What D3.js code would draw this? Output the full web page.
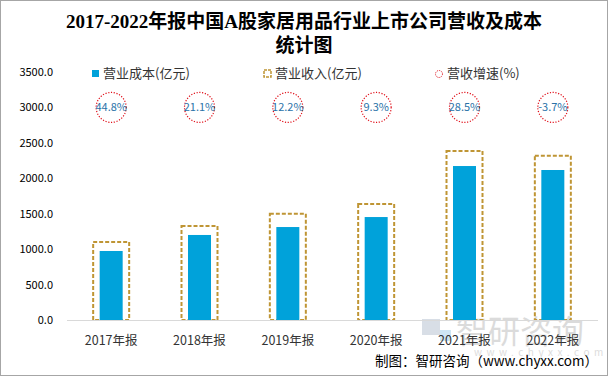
<!DOCTYPE html>
<html>
<head>
<meta charset="utf-8">
<script src="https://cdn.jsdelivr.net/npm/d3@7"></script>
<style>
  body { margin: 0; background: #fff; }
  text { font-family: "Microsoft YaHei", "Noto Sans CJK SC", sans-serif; }
</style>
</head>
<body>
<div id="chart"></div>
<script>
const years = ["2017年报", "2018年报", "2019年报", "2020年报", "2021年报", "2022年报"];
const cost = [974, 1200, 1312, 1453, 2173, 2117];
const revenue = [1100, 1327, 1500, 1637, 2385, 2319];
const growth = ["44.8%", "21.1%", "12.2%", "9.3%", "28.5%", "-3.7%"];
const yTicks = [0, 500, 1000, 1500, 2000, 2500, 3000, 3500];

const W = 610, H = 377;
const plot = { left: 67, right: 597, top: 72, bottom: 320 };

const svg = d3.select("#chart").append("svg")
    .attr("width", W).attr("height", H);

// 外框
svg.append("rect")
    .attr("x", 0.5).attr("y", 0.5)
    .attr("width", W - 3).attr("height", H - 2)
    .attr("fill", "#fff").attr("stroke", "#a6a6a6");

// 标题
const title = svg.append("text")
    .attr("text-anchor", "middle")
    .style("font-family", "'Liberation Serif', 'Noto Sans CJK SC', serif")
    .style("font-weight", "bold")
    .style("font-size", "19px")
    .attr("fill", "#000");
title.append("tspan").attr("x", 304).attr("y", 28).text("2017-2022年报中国A股家居用品行业上市公司营收及成本");
title.append("tspan").attr("x", 304).attr("y", 52).text("统计图");

const x = d3.scaleBand().domain(years).range([plot.left, plot.right]);
const y = d3.scaleLinear().domain([0, 3500]).range([plot.bottom, plot.top]);

// Y轴
svg.append("g")
    .selectAll("text")
    .data(yTicks)
    .join("text")
    .attr("x", 53)
    .attr("y", d => y(d) + 4)
    .attr("text-anchor", "end")
    .style("font-size", "11px")
    .attr("fill", "#000")
    .text(d => d.toFixed(1));

// 水印
const wm = svg.append("g").attr("opacity", 0.3);
wm.append("rect").attr("x", 422).attr("y", 319).attr("width", 18).attr("height", 16).attr("fill", "#7f93b0");
wm.append("rect").attr("x", 440).attr("y", 330).attr("width", 11).attr("height", 11).attr("fill", "#5fb0e0");
wm.append("text").attr("x", 456).attr("y", 343)
    .style("font-size", "32px").attr("fill", "#8c8c8c").text("智研咨询");
wm.append("text").attr("x", 474).attr("y", 356)
    .style("font-size", "10px").style("letter-spacing", "4.5px").attr("fill", "#8c8c8c").text("www.chyxx.com");

// 营业收入（虚线框）
const rw = 36;
svg.append("g")
    .selectAll("rect")
    .data(revenue)
    .join("rect")
    .attr("x", (d, i) => x(years[i]) + x.bandwidth() / 2 - rw / 2)
    .attr("y", d => y(d))
    .attr("width", rw)
    .attr("height", d => y(0) - y(d))
    .attr("fill", "none")
    .attr("stroke", "#bf9534")
    .attr("stroke-width", 2)
    .attr("stroke-dasharray", "4,2");

// 营业成本
const cw = 23;
svg.append("g")
    .selectAll("rect")
    .data(cost)
    .join("rect")
    .attr("x", (d, i) => x(years[i]) + x.bandwidth() / 2 - cw / 2)
    .attr("y", d => y(d))
    .attr("width", cw)
    .attr("height", d => y(0) - y(d))
    .attr("fill", "#00a2da");

// X轴
svg.append("line")
    .attr("x1", plot.left).attr("x2", plot.right + 1)
    .attr("y1", y(0) + 0.5).attr("y2", y(0) + 0.5)
    .attr("stroke", "#d9d9d9");

svg.append("g")
    .selectAll("text")
    .data(years)
    .join("text")
    .attr("x", d => x(d) + x.bandwidth() / 2)
    .attr("y", 345)
    .attr("text-anchor", "middle")
    .style("font-size", "12.5px")
    .attr("fill", "#333")
    .text(d => d);

// 增速圆圈
const gg = svg.append("g")
    .selectAll("g")
    .data(growth)
    .join("g")
    .attr("transform", (d, i) => `translate(${x(years[i]) + x.bandwidth() / 2},${y(3000)})`);
gg.append("circle")
    .attr("r", 15)
    .attr("fill", "none")
    .attr("stroke", "#e0101a")
    .attr("stroke-width", 1.2)
    .attr("stroke-dasharray", "1.2,1.6");
gg.append("text")
    .attr("y", 4)
    .attr("text-anchor", "middle")
    .style("font-size", "11px")
    .attr("fill", "#2a72a8")
    .text(d => d);

// 图例
const lg = svg.append("g").style("font-size", "13px");
lg.append("rect").attr("x", 92).attr("y", 70).attr("width", 7).attr("height", 7).attr("fill", "#00a2da");
lg.append("text").attr("x", 103).attr("y", 78).attr("fill", "#333").text("营业成本(亿元)");
lg.append("rect").attr("x", 264).attr("y", 70).attr("width", 7).attr("height", 7)
    .attr("fill", "none").attr("stroke", "#bf9534").attr("stroke-width", 1.5).attr("stroke-dasharray", "3,1");
lg.append("text").attr("x", 275).attr("y", 78).attr("fill", "#333").text("营业收入(亿元)");
lg.append("circle").attr("cx", 439).attr("cy", 74).attr("r", 3.5)
    .attr("fill", "none").attr("stroke", "#e0101a").attr("stroke-width", 1).attr("stroke-dasharray", "1,1");
lg.append("text").attr("x", 447).attr("y", 78).attr("fill", "#333").text("营收增速(%)");

// 来源
svg.append("text")
    .attr("x", 598).attr("y", 366)
    .attr("text-anchor", "end")
    .style("font-size", "13.5px")
    .attr("fill", "#000")
    .text("制图：智研咨询（www.chyxx.com）");
</script>
</body>
</html>
